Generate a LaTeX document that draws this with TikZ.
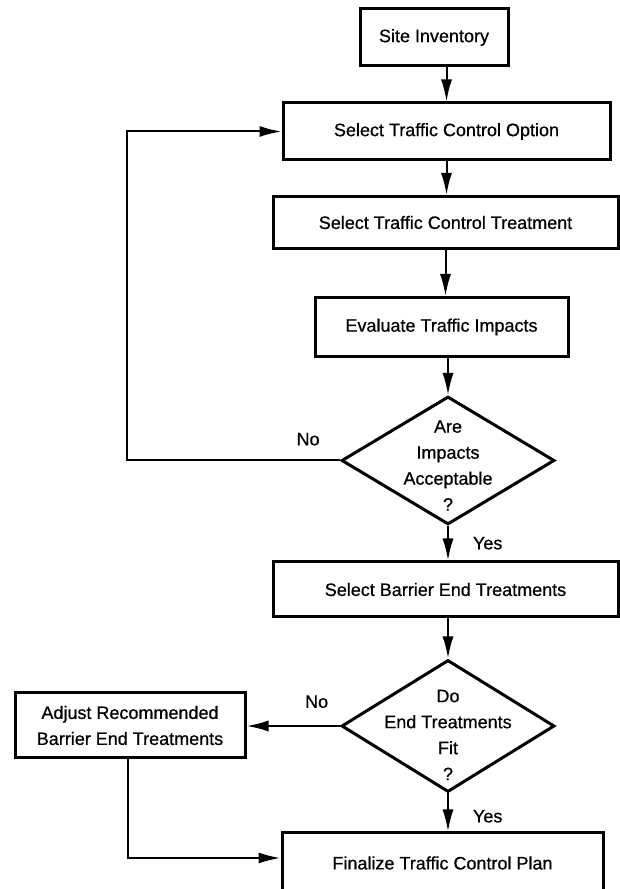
\documentclass[tikz,border=0pt]{standalone}
\usepackage{fontspec}
\setmainfont{Liberation Sans}[FakeBold=0.6]
\usepackage{tikz}
\usetikzlibrary{shapes.geometric,arrows.meta,positioning}
\tikzset{
block/.style = {draw, fill=white, rectangle, line width=3pt, inner sep=0pt, align=center},
decision/.style = {draw, diamond, line width=3pt, inner sep=0pt, minimum width=213pt},
ask/.style = {align=center, inner sep=0pt},
answer/.style = {inner sep=0pt},
tmp/.style = {coordinate}
}

\begin{document}
\begin{tikzpicture}[x=1pt, y=1pt, line width=2pt, >={Latex[length=22pt,width=11pt]},
                    font=\fontsize{18}{26}\selectfont]
  \useasboundingbox (0,0) rectangle (619,889);

  \node [block, minimum width=148pt, minimum height=57pt]  (site)    at (434,851.5)   {Site Inventory};
  \node [block, minimum width=327pt, minimum height=57pt]  (option)  at (446.5,757.5) {Select Traffic Control Option};
  \node [block, minimum width=345pt, minimum height=52pt]  (treat)   at (445.5,666.5) {Select Traffic Control Treatment};
  \node [block, minimum width=253pt, minimum height=59pt]  (evalu)   at (441.5,562)   {Evaluate Traffic Impacts};
  \node [decision, minimum height=128pt]                   (accept)  at (448,428.5)   {};
  \node [ask]                                              (accepttx) at (448,423.5)  {Are\\Impacts\\Acceptable\\?};
  \node [block, minimum width=345pt, minimum height=55pt]  (barrier) at (445.5,299.5) {Select Barrier End Treatments};
  \node [decision, minimum height=132pt]                   (fit)     at (448,163)     {};
  \node [ask]                                              (fittx)   at (448,154)     {Do\\End Treatments\\Fit\\?};
  \node [block, minimum width=230pt, minimum height=65pt]  (adjust)  at (130,163.5)   {Adjust Recommended\\Barrier End Treatments};
  \node [block, minimum width=321pt, minimum height=60pt]  (final)   at (442.5,26)    {Finalize Traffic Control Plan};
  \node [tmp]                                              (back1)   at (127,428.5)   {};
  \node [tmp]                                              (back2)   at (128,31)      {};

  \draw [->] (site.south -| option.north) -- (option.north);
  \draw [->] (option.south) -- (option.south |- treat.north);
  \draw [->] (treat.south) -- (treat.south |- evalu.north);
  \draw [->] (evalu.south -| accept.north) -- (accept.north);
  \draw [->] (accept.south) -- node [answer, pos=0.5, right=24pt] {Yes} (accept.south |- barrier.north);
  \draw [->] (accept.west) -- node [answer, pos=0.15, above=14pt] {No} (back1) |- (option.west);
  \draw [->] (barrier.south -| fit.north) -- (fit.north);
  \draw [->] (fit.south) -- node [answer, pos=0.6, right=24pt] {Yes} (fit.south |- final.north);
  \draw [->] (fit.west) -- node [answer, pos=0.25, above=17pt] {No} (fit.west -| adjust.east);
  \draw [->] (adjust.south -| back2) -- (back2) -- (back2 -| final.west);
\end{tikzpicture}
\end{document}
